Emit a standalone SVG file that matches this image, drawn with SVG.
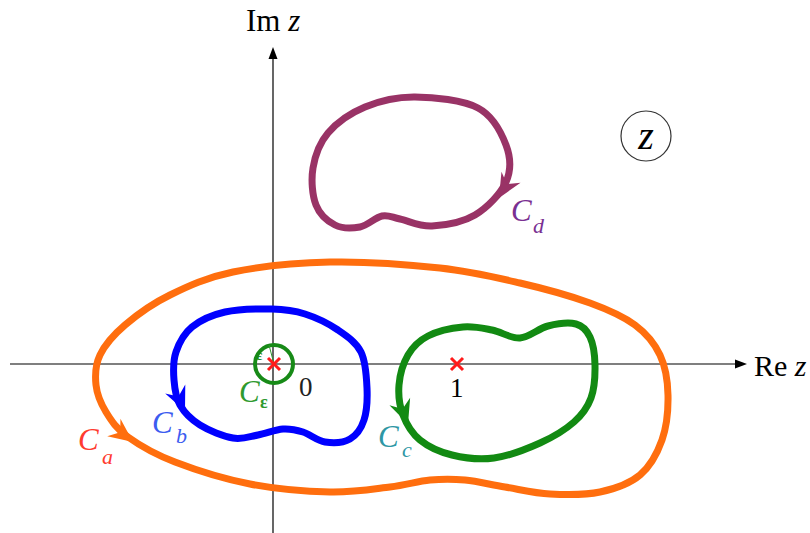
<svg xmlns="http://www.w3.org/2000/svg" xmlns:xlink="http://www.w3.org/1999/xlink" width="810" height="533" viewBox="0 0 810 533">
<style>
.t{font-family:"Liberation Serif","Times New Roman",serif;}
.i{font-style:italic;}
.curve{fill:none;stroke-width:7;stroke-linejoin:round;}
.lab{font-size:31px;}
.sub{font-size:22px;}
.axis{stroke:#000;stroke-width:1.2;fill:none;}
.mark{stroke:#FF1A1A;stroke-width:3;}
</style>
<defs>
<path id="ah" d="M0,0 L-24,-11 L-16,0 L-24,11 Z"/>
</defs>
<rect width="810" height="533" fill="#fff"/>
<g id="axes">
<line class="axis" x1="10" y1="364" x2="738" y2="364"/>
<path d="M747,364 L735,359.5 L735,368.5 Z" fill="#000"/>
<line class="axis" x1="273" y1="533" x2="273" y2="58"/>
<path d="M273,47 L268.5,59 L277.5,59 Z" fill="#000"/>
<text class="t" x="246" y="31" font-size="31">Im <tspan class="i">z</tspan></text>
<text class="t" x="754" y="376" font-size="30">Re <tspan class="i">z</tspan></text>
</g>
<g id="zbadge">
<circle cx="646" cy="136" r="25" fill="none" stroke="#333" stroke-width="1.2"/>
<text class="t i" x="646" y="149" font-size="40" text-anchor="middle">z</text>
</g>
<g id="Ca">
<path class="curve" stroke="#FF6E0E" d="M330,262 C295.5,262.7 259.7,266.5 233,272 C206.3,277.5 188,286.2 170,295 C152,303.8 136.7,315 125,325 C113.3,335 104.8,345 100,355 C95.2,365 95,375.5 96,385 C97,394.5 100.7,403.3 106,412 C111.3,420.7 116.5,428.7 128,437 C139.5,445.3 154.7,454.2 175,462 C195.3,469.8 224.2,479 250,484 C275.8,489 306.7,491.5 330,492 C353.3,492.5 373.3,489 390,487 C406.7,485 417.5,481.2 430,480 C442.5,478.8 452.5,478.8 465,480 C477.5,481.2 490.8,484.7 505,487 C519.2,489.3 534.2,493.2 550,494 C565.8,494.8 585,495.2 600,492 C615,488.8 629.7,483.7 640,475 C650.3,466.3 657.3,453.3 662,440 C666.7,426.7 668.3,409.2 668,395 C667.7,380.8 665.5,366.7 660,355 C654.5,343.3 646.7,333.7 635,325 C623.3,316.3 609.2,310 590,303 C570.8,296 545,288.8 520,283 C495,277.2 471.7,271.5 440,268 C408.3,264.5 364.5,261.3 330,262 Z"/>
<use xlink:href="#ah" href="#ah" fill="#FF6E0E" transform="translate(133,442) rotate(37)"/>
<text class="t i lab" x="78" y="450" fill="#FF3B2F">C</text>
<text class="t i sub" x="102" y="464" fill="#FF3B2F">a</text>
</g>
<g id="Cb">
<path class="curve" stroke="#0000FF" stroke-width="8" d="M272,309 C258.7,308.7 238.3,309 225,312 C211.7,315 200.2,320.3 192,327 C183.8,333.7 179,343.2 176,352 C173,360.8 173.3,371.2 174,380 C174.7,388.8 175.7,397.5 180,405 C184.3,412.5 191.2,419.5 200,425 C208.8,430.5 223.3,436.3 233,438 C242.7,439.7 249.7,436.5 258,435 C266.3,433.5 275.5,429.5 283,429 C290.5,428.5 296,429.8 303,432 C310,434.2 317.2,440.8 325,442 C332.8,443.2 343.5,442.7 350,439 C356.5,435.3 361.2,428.5 364,420 C366.8,411.5 367.5,399.3 367,388 C366.5,376.7 365.8,361.7 361,352 C356.2,342.3 347.3,336.3 338,330 C328.7,323.7 316,317.5 305,314 C294,310.5 285.3,309.3 272,309 Z"/>
<use xlink:href="#ah" href="#ah" fill="#0000FF" transform="translate(185,411) rotate(66)"/>
<text class="t i lab" x="152" y="433" fill="#3C5CF0">C</text>
<text class="t i sub" x="176" y="443" fill="#3C5CF0">b</text>
</g>
<g id="Ceps">
<circle cx="274" cy="364" r="19" fill="none" stroke="#178A17" stroke-width="4"/>
<line x1="274" y1="364" x2="269" y2="345" stroke="#2E9A2E" stroke-width="1"/>
<text class="t" x="256" y="360" font-size="15" font-weight="bold" fill="#178A17">ε</text>
<text class="t i lab" x="239" y="402" fill="#2F9A2F">C</text>
<text class="t" x="260" y="408" font-size="18" font-weight="bold" fill="#2F9A2F">ε</text>
</g>
<g id="Cc">
<path class="curve" stroke="#128A12" d="M463,327 C452.3,328 437.2,331.3 428,336 C418.8,340.7 412.8,346.8 408,355 C403.2,363.2 399.8,375 399,385 C398.2,395 399.5,405.8 403,415 C406.5,424.2 411.8,433.3 420,440 C428.2,446.7 439.7,452 452,455 C464.3,458 479.3,460 494,458 C508.7,456 526.7,449 540,443 C553.3,437 565.5,429.5 574,422 C582.5,414.5 587.5,407.5 591,398 C594.5,388.5 595.2,375.2 595,365 C594.8,354.8 593.2,343.8 590,337 C586.8,330.2 583,325.8 576,324 C569,322.2 557.3,323.7 548,326 C538.7,328.3 529.3,337.3 520,338 C510.7,338.7 501.5,331.8 492,330 C482.5,328.2 473.7,326 463,327 Z"/>
<use xlink:href="#ah" href="#ah" fill="#128A12" transform="translate(408,424) rotate(70)"/>
<text class="t i lab" x="378" y="447" fill="#2E97A5">C</text>
<text class="t i sub" x="402" y="457" fill="#2E97A5">c</text>
</g>
<g id="Cd">
<path class="curve" stroke="#993366" d="M415,97 C433.8,97.2 462.8,100 478,108 C493.2,116 501.3,132.7 506,145 C510.7,157.3 511.2,170.3 506,182 C500.8,193.7 487.3,207.7 475,215 C462.7,222.3 444.5,225.3 432,226 C419.5,226.7 408.3,220.7 400,219 C391.7,217.3 388.7,214.7 382,216 C375.3,217.3 367.8,225.5 360,227 C352.2,228.5 342.3,228.7 335,225 C327.7,221.3 319.7,214.5 316,205 C312.3,195.5 311,180 313,168 C315,156 319.3,143.2 328,133 C336.7,122.8 350.5,113 365,107 C379.5,101 396.2,96.8 415,97 Z"/>
<use xlink:href="#ah" href="#ah" fill="#993366" transform="translate(499,198) rotate(120)"/>
<text class="t i lab" x="511" y="221" fill="#7A3092">C</text>
<text class="t i sub" x="533" y="233" fill="#7A3092">d</text>
</g>
<g id="points">
<path class="mark" d="M268,358 L280,370 M280,358 L268,370"/>
<path class="mark" d="M451,358 L463,370 M463,358 L451,370"/>
<text class="t" x="299" y="396" font-size="27" fill="#222">0</text>
<text class="t" x="450" y="397" font-size="27" fill="#000">1</text>
</g>
</svg>
